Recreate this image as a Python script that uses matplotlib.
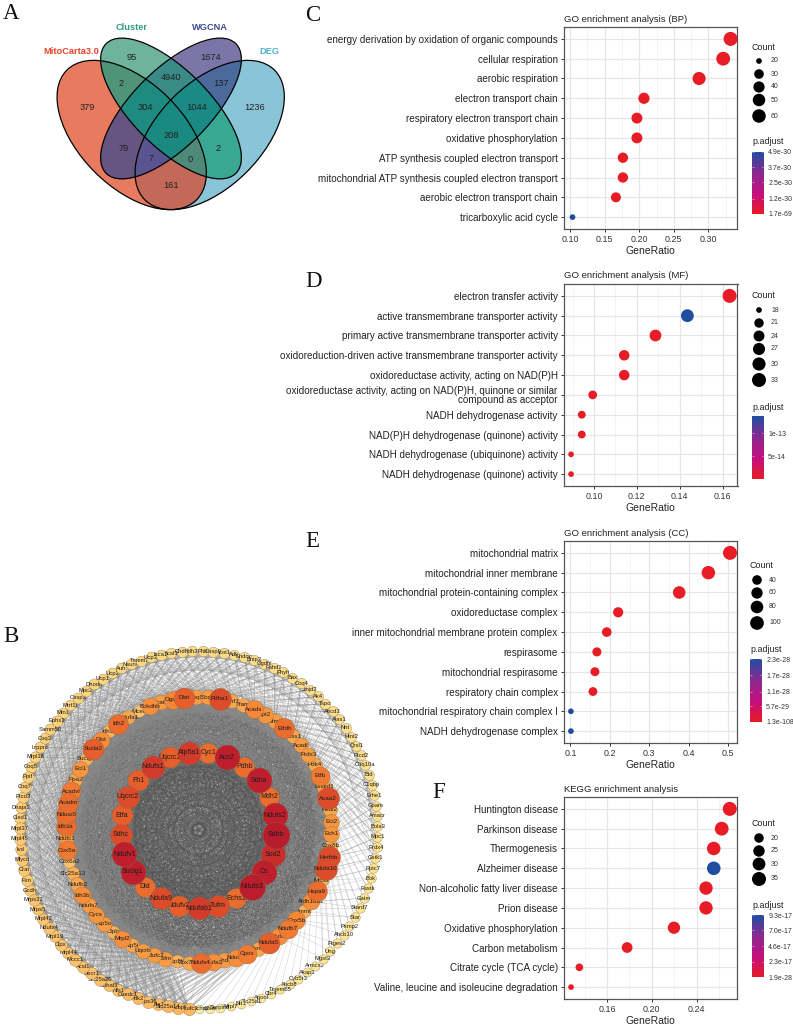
#!/usr/bin/env python3
# coding: utf-8

import numpy as np
import matplotlib
matplotlib.use('Agg')
import matplotlib.pyplot as plt
from matplotlib.collections import LineCollection
from matplotlib.colors import LinearSegmentedColormap, to_rgb
from matplotlib.patches import Ellipse

plt.rcParams['font.family'] = ['Liberation Sans', 'DejaVu Sans']

W, H = 793.0, 1024.0

# venn data
venn_names = ['MitoCarta3.0', 'Cluster', 'WGCNA', 'DEG']
venn_counts = ['379', '95', '1674', '1236', '2', '4940', '137', '304', '1044',
               '79', '208', '2', '7', '0', '161']

# enrichment data
bp_terms = ['energy derivation by oxidation of organic compounds',
            'cellular respiration', 'aerobic respiration',
            'electron transport chain',
            'respiratory electron transport chain',
            'oxidative phosphorylation',
            'ATP synthesis coupled electron transport',
            'mitochondrial ATP synthesis coupled electron transport',
            'aerobic electron transport chain', 'tricarboxylic acid cycle']
bp_ratio = [0.332, 0.3213, 0.2865, 0.2068, 0.1967, 0.1967, 0.1764, 0.1764,
            0.1663, 0.1036]
bp_count = [65, 63, 56, 40, 38, 38, 34, 34, 32, 20]
bp_padj = [1.7e-69, 2e-66, 1e-58, 1e-45, 1e-44, 1e-44, 1e-40, 1e-40, 1e-38,
           4.9e-30]
bp_keys = [20, 30, 40, 50, 60]
bp_ticks = [1.7e-69, 1.2e-30, 2.5e-30, 3.7e-30, 4.9e-30]
bp_ticklabels = ['1.7e-69', '1.2e-30', '2.5e-30', '3.7e-30', '4.9e-30']

mf_terms = ['electron transfer activity',
            'active transmembrane transporter activity',
            'primary active transmembrane transporter activity',
            'oxidoreduction-driven active transmembrane transporter activity',
            'oxidoreductase activity, acting on NAD(P)H',
            'oxidoreductase activity, acting on NAD(P)H, quinone or similar\n'
            'compound as acceptor',
            'NADH dehydrogenase activity',
            'NAD(P)H dehydrogenase (quinone) activity',
            'NADH dehydrogenase (ubiquinone) activity',
            'NADH dehydrogenase (quinone) activity']
mf_ratio = [0.1633, 0.1436, 0.1287, 0.1141, 0.1141, 0.0994, 0.0943, 0.0943,
            0.0893, 0.0893]
mf_count = [33, 29, 26, 23, 23, 20, 19, 19, 18, 18]
mf_padj = [1e-16, 1.37e-13, 1e-15, 1e-15, 1e-15, 1e-15, 1e-15, 1e-15, 1e-15,
           1e-15]
mf_keys = [18, 21, 24, 27, 30, 33]
mf_ticks = [5e-14, 1e-13]
mf_ticklabels = ['5e-14', '1e-13']

cc_terms = ['mitochondrial matrix', 'mitochondrial inner membrane',
            'mitochondrial protein-containing complex',
            'oxidoreductase complex',
            'inner mitochondrial membrane protein complex', 'respirasome',
            'mitochondrial respirasome', 'respiratory chain complex',
            'mitochondrial respiratory chain complex I',
            'NADH dehydrogenase complex']
cc_ratio = [0.505, 0.45, 0.376, 0.221, 0.192, 0.167, 0.162, 0.157, 0.101,
            0.101]
cc_count = [106, 95, 79, 46, 40, 35, 34, 33, 21, 21]
cc_padj = [1.3e-108, 1e-100, 1e-90, 1e-60, 1e-50, 1e-45, 1e-45, 1e-44, 2.3e-28,
           2.3e-28]
cc_keys = [40, 60, 80, 100]
cc_ticks = [1.3e-108, 5.7e-29, 1.1e-28, 1.7e-28, 2.3e-28]
cc_ticklabels = ['1.3e-108', '5.7e-29', '1.1e-28', '1.7e-28', '2.3e-28']

kegg_terms = ['Huntington disease', 'Parkinson disease', 'Thermogenesis',
              'Alzheimer disease', 'Non-alcoholic fatty liver disease',
              'Prion disease', 'Oxidative phosphorylation',
              'Carbon metabolism', 'Citrate cycle (TCA cycle)',
              'Valine, leucine and isoleucine degradation']
kegg_ratio = [0.2695, 0.2623, 0.2552, 0.2552, 0.2483, 0.2483, 0.2197, 0.1779,
              0.1353, 0.1279]
kegg_count = [35, 34, 33, 33, 32, 32, 28, 23, 17, 16]
kegg_padj = [1.9e-28, 1e-27, 1e-26, 9.3e-17, 1e-25, 1e-25, 1e-24, 1e-22, 1e-20,
             1e-20]
kegg_keys = [20, 25, 30, 35]
kegg_ticks = [1.9e-28, 2.3e-17, 4.6e-17, 7.0e-17, 9.3e-17]
kegg_ticklabels = ['1.9e-28', '2.3e-17', '4.6e-17', '7.0e-17', '9.3e-17']

# network nodes, clockwise, degrees estimated from node size and colour
inner_genes = ['Atp5a1', 'Cyc1', 'Aco2', 'Pdhb', 'Sdha', 'Mdh2', 'Ndufs2',
               'Sdhb', 'Sod2', 'Cs', 'Ndufs3', 'Echs1', 'Tufm', 'Ndufab1',
               'Ndufv2', 'Ndufa9', 'Dld', 'Suclg1', 'Ndufv1', 'Sdhc', 'Etfa',
               'Uqcrc2', 'Fh1', 'Ndufs1', 'Uqcrc1']
inner_degree = [75, 60, 85, 60, 85, 60, 85, 95, 80, 85, 90, 60, 70, 75, 65, 70,
                60, 85, 85, 70, 65, 70, 65, 75, 65]

middle_genes = ['Pdha1', 'Etfrf1', 'Tfam', 'Acads', 'Cpt2', 'Gfm1', 'Etfdh',
                'Acss1', 'Acadl', 'Prdx3', 'Pdk4', 'Etfb', 'Dhtkd1', 'Acaa2',
                'Hsdl2', 'Eci2', 'Ech1', 'Cox8b', 'Hadhb', 'Ndufa10', 'Mrpl3',
                'Hspa9', 'Aldh18a1', 'Immt', 'Cox5b', 'Ndufb7', 'Ndufa8',
                'Ndufa5', 'Txn2', 'Cpox', 'Ndufb9', 'Echdc3', 'Ndufa3',
                'Ndufs4', 'Cox7a2', 'Atp5h', 'Tsfm', 'Ndufc2', 'Uqcrb',
                'Atp5j', 'Mrpl2', 'Clpb', 'Atp5o', 'Cycs', 'Ndufs7', 'Idh3b',
                'Ndufb2', 'Slc25a13', 'Cox6a2', 'Cox5a', 'Ndufc1', 'Idh3a',
                'Ndufb5', 'Acadm', 'Acadvl', 'Ppa2', 'Eci1', 'Suclg2',
                'Sucla2', 'Dlst', 'Idh3g', 'Idh2', 'Ndufa1', 'Mcee', 'Bckdhb',
                'Bcat2', 'Ogdh', 'Dlat', 'Coq9', 'Sod1']
middle_degree = [70, 30, 30, 50, 40, 35, 60, 30, 35, 35, 30, 55, 35, 70, 30,
                 40, 40, 25, 70, 70, 25, 60, 45, 25, 50, 55, 45, 65, 30, 55,
                 45, 35, 45, 60, 30, 25, 35, 35, 35, 30, 45, 25, 35, 40, 35,
                 45, 30, 25, 20, 55, 35, 60, 60, 60, 55, 30, 40, 25, 65, 45,
                 25, 60, 30, 20, 45, 35, 50, 65, 35, 35]

outer_genes = ['Acsf3', 'Chdh', 'Idh3', 'Phb', 'Casp9', 'Acot1', 'Adk',
               'Endog', 'Bnip3', 'Ogdhl', 'Fahd1', 'Phyh', 'Bax', 'Coq4',
               'Jmjd2', 'Ak4', 'Tspo', 'Abcd3', 'Alas1', 'Nnt', 'Hint2',
               'Qrsl1', 'Ptcd2', 'Coq10a', 'Bid', 'C1qbp', 'Ethe1', 'Gpam',
               'Amacr', 'Bola3', 'Mpc1', 'Prdx4', 'Gstk1', 'Pptc7', 'Bok',
               'Fastk', 'Gatm', 'Stard7', 'Star', 'Pxmp2', 'Abcb10', 'Ptges2',
               'Ung', 'Mgst3', 'Armcx2', 'Akap1', 'Cyb5r3', 'Abcb8', 'Tmem65',
               'Cbr4', 'Apool', 'Slc25a1', 'Nit1', 'Mrpl7', 'Serpinb',
               'Sepsecs', 'Chchd2', 'Ndufc3', 'Nubpl', 'Slc25a14', 'Mtx1',
               'Mrps36', 'Pdk2', 'Cuedc1', 'Nfs1', 'Sdhaf1', 'Slc25a20',
               'Decr1', 'Acsl1', 'Mccc1', 'Mrpl44', 'Clpx', 'Mrpl19', 'Ndufa4',
               'Mrpl42', 'Mrps5', 'Mrps31', 'Gcdh', 'Fxn', 'Crat', 'Mlycd',
               'Ivd', 'Mrpl45', 'Mrpl37', 'Cisd1', 'Dnaja3', 'Ptcd3', 'Coq7',
               'Ppif', 'Coq5', 'Mrpl18', 'Lrpprc', 'Coq3', 'Samm50', 'Ephx2',
               'Mfn1', 'Mtrf1l', 'Casp3', 'Mpc2', 'Dhodh', 'Ucp1', 'Ucp2',
               'Auh', 'Nsun4', 'Tmem70', 'Ucp3', 'Isca1']
outer_degree = [13, 13, 13, 13, 13, 12, 12, 12, 12, 12, 12, 12, 12, 12, 11, 11,
                11, 11, 11, 11, 10, 10, 10, 10, 10, 10, 10, 9, 9, 9, 9, 9, 9,
                8, 8, 8, 8, 8, 8, 7, 7, 7, 7, 7, 6, 6, 6, 6, 6, 5, 5, 5, 5, 5,
                5, 4, 4, 22, 22, 22, 21, 21, 21, 21, 20, 20, 20, 20, 20, 20,
                19, 19, 19, 19, 19, 19, 19, 18, 18, 18, 18, 18, 18, 18, 17, 17,
                17, 17, 17, 16, 16, 16, 16, 16, 16, 15, 15, 15, 15, 15, 15, 14,
                14, 14, 14, 14, 14]


def rect(l, t, r, b):
    return [l/W, 1-b/H, (r-l)/W, (b-t)/H]


def px2s(d):
    # marker area in points^2 from a diameter in pixels
    return (d*0.72)**2


# initialize figure
fig = plt.figure(figsize=(W/100.0, H/100.0), dpi=100)
ov = fig.add_axes([0, 0, 1, 1], zorder=5)
ov.axis('off')
ov.patch.set_alpha(0)

# panel letters
for s, x, y in [('A', 3, 19), ('B', 3, 642), ('C', 305, 21), ('D', 305, 287),
                ('E', 305, 547), ('F', 432, 798)]:
    ov.text(x, y, s, family='Liberation Serif', fontsize=16.5, color='#111111',
            va='baseline', ha='left')

# venn, one fill per set combination as the overlaps are not plain alpha mixes
venn_shapes = [(131.7, 135.0, 91.7, 52.3, 45), (171.0, 108.5, 91.7, 38.7, 45),
               (171.0, 108.5, 91.7, 38.7, -45), (209.7, 135.0, 91.7, 52.3, -45)]
venn_fill = {'M': '#E87B5F', 'C': '#6FB39B', 'W': '#7B76A8', 'D': '#8AC4D8',
             'MC': '#4F9478', 'CW': '#3A8A88', 'WD': '#4A6A9C', 'CD': '#3AA893',
             'MW': '#665580', 'MD': '#C4685A', 'MCW': '#1E8A80',
             'CWD': '#1A8A88', 'MWD': '#5A5590', 'MCD': '#4F8A78',
             'MCWD': '#1A8A80'}
gx, gy = np.meshgrid(np.arange(40, 300, 0.25), np.arange(25, 225, 0.25))
code = np.zeros(gx.shape, int)
for k, (cx, cy, a, b, ang) in enumerate(venn_shapes):
    t = np.radians(ang)
    u = (gx-cx)*np.cos(t) + (gy-cy)*np.sin(t)
    v = -(gx-cx)*np.sin(t) + (gy-cy)*np.cos(t)
    code += ((u/a)**2 + (v/b)**2 <= 1)*(1 << k)
img = np.ones(gx.shape + (4,))
img[..., 3] = 0
for key, c in venn_fill.items():
    bits = sum(1 << 'MCWD'.index(ch) for ch in key)
    img[code == bits, :3] = to_rgb(c)
    img[code == bits, 3] = 1
ov.imshow(img, extent=[40, 300, 225, 25], aspect='auto', zorder=1,
          interpolation='bilinear')
ov.set_xlim(0, W)
ov.set_ylim(H, 0)
for cx, cy, a, b, ang in venn_shapes:
    ov.add_patch(Ellipse((cx, cy), 2*a, 2*b, angle=ang, fc='none', ec='black',
                         lw=0.9, zorder=1.2))
name_xy = [(71.5, 51), (131.5, 28), (210, 28), (269, 51)]
name_c = ['#E8442A', '#2E9E7E', '#3F4A8F', '#4FB4D0']
for s, (x, y), c in zip(venn_names, name_xy, name_c):
    ov.text(x, y, s, color=c, fontsize=6.7, fontweight='bold', ha='center',
            va='center')
count_xy = [(87, 107), (131.5, 57), (211, 57), (255, 107), (121, 83),
            (171, 78), (221, 83), (145, 107), (197, 107), (123.5, 148.5),
            (171, 135), (218, 148.5), (151, 158.5), (190.5, 159), (171, 185)]
for s, (x, y) in zip(venn_counts, count_xy):
    ov.text(x, y, s, color='#222222', fontsize=6.7, ha='center', va='center')

# network
ncx, ncy = 198.5, 830.0


def ring(n, r, start):
    a = np.radians(start + np.arange(n)*360.0/n)
    return np.c_[ncx + r*np.sin(a), ncy - r*np.cos(a)]


inn = ring(len(inner_genes), 78.0, -7.2)
mid = ring(len(middle_genes), 133.0, 9.3)
out = ring(len(outer_genes), 179.0, -8.7)

# the single edges can't be read from the picture, so these links only stand in
# for the overall texture: each node gets a share of links set by its degree
nm = len(mid)
dense = []
for i in range(nm):
    for j in range(i+12, nm):
        if j - i <= nm - 12 and (i*i + j*7) % 5 < 4:
            dense.append([mid[i], mid[j]])
    for j in range(len(inn)):
        if (i*3 + j*j) % 4 < 3:
            dense.append([mid[i], inn[j]])
for i in range(len(inn)):
    for j in range(i+2, len(inn)):
        dense.append([inn[i], inn[j]])
ov.add_collection(LineCollection(dense, colors='#555555', linewidths=0.3,
                                 alpha=0.45, zorder=2))
sparse = []
for i, d in enumerate(outer_degree):
    home = int(round(i*nm/107.0)) + 2
    for k in range(max(1, int((d-5)*1.6))):
        sparse.append([out[i], mid[(home + (k*k*5 + k*11) % 41 - 20) % nm]])
for i, d in enumerate(outer_degree):
    if d > 8:
        for k in range(d//4):
            j = (i + 9 + k*7) % len(out)
            if j < 34 or j > 58:
                sparse.append([out[i], out[j]])
ov.add_collection(LineCollection(sparse, colors='#8a8a8a', linewidths=0.3,
                                 alpha=0.5, zorder=2))

node_cmap = LinearSegmentedColormap.from_list(
    'nodes', [(0.0, '#FDF3A6'), (15/95., '#FBD681'), (22/95., '#FAB660'),
              (35/95., '#F79C45'), (50/95., '#F58737'), (65/95., '#E65F2B'),
              (72/95., '#D8442A'), (85/95., '#BF1F2D'), (1.0, '#B81C2D')])


def draw_nodes(xy, genes, degree, fs):
    order = np.argsort(degree, kind='stable')
    for n, i in enumerate(order):
        z = 3 + n*0.01
        d = 8 + degree[i]/5.0
        c = node_cmap(degree[i]/95.0)
        ov.scatter(xy[i, 0], xy[i, 1], s=px2s(d), color=c, edgecolors='#8a6a40',
                   linewidths=0.25, zorder=z)
        ov.text(xy[i, 0], xy[i, 1], genes[i], fontsize=fs, color='#1c1c1c',
                ha='center', va='center', zorder=z+0.005)


draw_nodes(out, outer_genes, outer_degree, 4.2)
draw_nodes(mid, middle_genes, middle_degree, 4.5)
draw_nodes(inn, inner_genes, inner_degree, 5.0)

padj_cmap = LinearSegmentedColormap.from_list(
    'padj', ['#E81C25', '#C4107F', '#8A2A90', '#1F4EA1'])


def dotplot(box, title, terms, ratio, count, padj, xlim, xticks, xfmt, keys,
            key_y, cbar_box, ticks, ticklabels, count_title_y, cbar_title_y):
    l, t, r, b = box
    ax = fig.add_axes(rect(l, t, r, b))
    n = len(terms)
    y = np.arange(n)[::-1]
    lo, hi = min(count), max(count)
    # same area rescale as ggplot's scale_size
    diam = lambda c: 5.7 + 8.3*np.sqrt((np.asarray(c, float)-lo)/(hi-lo))
    vmin, vmax = min(padj), max(padj)
    ax.scatter(ratio, y, s=px2s(diam(count)), c=padj, cmap=padj_cmap,
               vmin=vmin, vmax=vmax, linewidths=0, zorder=3, clip_on=False)
    ax.set_xlim(*xlim)
    ax.set_ylim(-0.6, n-0.4)
    ax.set_yticks(y)
    ax.set_yticklabels(terms, linespacing=0.9)
    ax.set_xticks(xticks)
    ax.set_xticklabels([xfmt % v for v in xticks])
    minor = [v for v in (np.r_[xticks[0]*2-xticks[1], xticks] +
                         (xticks[1]-xticks[0])/2.0)
             if xlim[0] < v < xlim[1]]
    ax.set_xticks(minor, minor=True)
    ax.grid(which='major', color='#E6E6E6', lw=0.85, zorder=0)
    ax.grid(which='minor', axis='x', color='#EFEFEF', lw=0.45, zorder=0)
    ax.set_axisbelow(True)
    ax.tick_params(which='minor', length=0)
    ax.tick_params(axis='y', labelsize=7.15, labelcolor='#222222', pad=2.5,
                   length=2, width=0.7, color='#333333')
    ax.tick_params(axis='x', labelsize=6.4, labelcolor='#333333', pad=2,
                   length=2, width=0.7, color='#333333')
    for s in ax.spines.values():
        s.set_color('#555555')
        s.set_linewidth(0.9)
    ax.set_xlabel('GeneRatio', fontsize=7.5, color='#222222', labelpad=1.5)
    ax.text(0, 1+3.5/(b-t), title, transform=ax.transAxes, fontsize=6.8,
            color='#222222', ha='left', va='bottom')

    # size legend
    lx = cbar_box[0]
    ov.text(lx, count_title_y, 'Count', fontsize=6.4, color='#222222',
            ha='left', va='center')
    ov.scatter([lx+7]*len(keys), key_y, s=px2s(diam(keys)), color='black',
               linewidths=0, zorder=8)
    for c, yy in zip(keys, key_y):
        ov.text(lx+19, yy, str(c), fontsize=5, color='#333333', ha='left',
                va='center')

    # colour legend
    ov.text(lx, cbar_title_y, 'p.adjust', fontsize=6.4, color='#222222',
            ha='left', va='center')
    cax = fig.add_axes(rect(*cbar_box))
    grad = np.linspace(0, 1, 256)[:, None]
    cax.imshow(grad, origin='lower', aspect='auto', cmap=padj_cmap,
               extent=[0, 1, vmin, vmax])
    cax.set_xticks([])
    cax.yaxis.tick_right()
    cax.set_yticks(ticks)
    cax.set_yticklabels(ticklabels)
    cax.tick_params(axis='y', length=0, labelsize=5, labelcolor='#333333',
                    pad=3)
    cax.set_ylim(vmin, vmax)
    cax.hlines(ticks, 0, 0.2, color='white', lw=0.4, alpha=0.8)
    cax.hlines(ticks, 0.8, 1, color='white', lw=0.4, alpha=0.8)
    for s in cax.spines.values():
        s.set_visible(False)
    return ax


dotplot((564, 27, 737.5, 229), 'GO enrichment analysis (BP)', bp_terms,
        bp_ratio, bp_count, bp_padj, (0.0913, 0.342),
        [0.10, 0.15, 0.20, 0.25, 0.30], '%.2f', bp_keys,
        [61, 74, 87, 100, 116], (752, 152, 764, 214), bp_ticks, bp_ticklabels,
        47, 141)
dotplot((564, 284, 737.5, 486), 'GO enrichment analysis (MF)', mf_terms,
        mf_ratio, mf_count, mf_padj, (0.086, 0.167),
        [0.10, 0.12, 0.14, 0.16], '%.2f', mf_keys,
        [310, 323, 336, 349, 364, 380], (752, 416, 764, 479), mf_ticks,
        mf_ticklabels, 296, 407)
dotplot((564, 541, 737.5, 743), 'GO enrichment analysis (CC)', cc_terms,
        cc_ratio, cc_count, cc_padj, (0.0835, 0.524),
        [0.1, 0.2, 0.3, 0.4, 0.5], '%.1f', cc_keys,
        [580, 593, 607, 623], (750, 659, 762, 722), cc_ticks, cc_ticklabels,
        566, 650)
dotplot((564, 797, 737.5, 999), 'KEGG enrichment analysis', kegg_terms,
        kegg_ratio, kegg_count, kegg_padj, (0.1216, 0.2764),
        [0.16, 0.20, 0.24], '%.2f', kegg_keys,
        [838, 851, 864, 879], (752, 915, 764, 977), kegg_ticks,
        kegg_ticklabels, 824, 905)

# save
fig.savefig('out.png', dpi=100, facecolor='white')
